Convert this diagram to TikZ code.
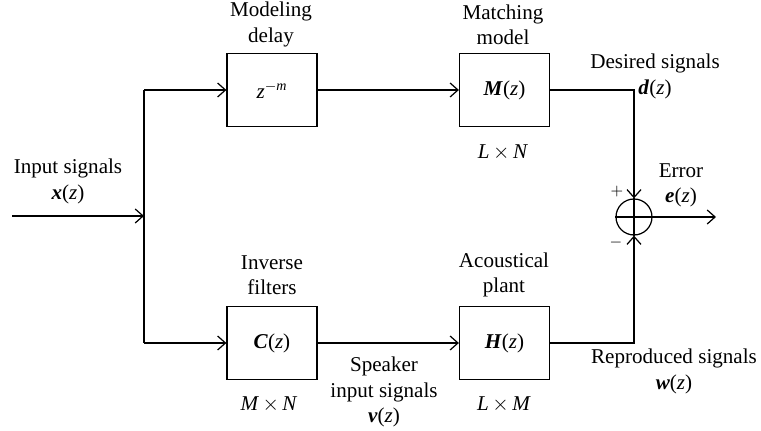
\documentclass[tikz,border=0pt]{standalone}
\usepackage{fontspec}
\setmainfont{Liberation Serif}
\usepackage{amsmath}
\usetikzlibrary{arrows.meta,positioning}

% bold vector of z, and plain italic letters, in the text face
\newcommand{\vz}[1]{\textbf{\textit{#1}}(\textit{z})}
\newcommand{\dimlbl}[2]{\textit{#1}\,$\times$\,\textit{#2}}

\tikzset{
  blk/.style={draw, line width=0.7pt, minimum width=1.8cm,
              minimum height=1.46cm, inner sep=0pt,
              font=\fontsize{12}{14.2}\selectfont},
  sig/.style={line width=0.7pt,
              -{Straight Barb[length=4.5pt,width=8pt]}},
  wire/.style={line width=0.7pt},
  lbl/.style={align=center, inner sep=0pt,
              font=\fontsize{12}{14.4}\selectfont},
  sgn/.style={inner sep=0pt, font=\fontsize{9}{9}\selectfont},
}

\begin{document}
\begin{tikzpicture}[x=0.02cm, y=-0.02cm]
    \useasboundingbox (0,0) rectangle (761,431);

    %% ── blocks ───────────────────────────────────────
    \node[blk] (delay) at (272,90)    {\textit{z}$^{-\textit{m}}$};
    \node[blk] (match) at (504.5,90)  {\vz{M}};
    \node[blk] (inv)   at (272,343)   {\vz{C}};
    \node[blk] (plant) at (504.5,343) {\vz{H}};

    %% ── summing junction ─────────────────────────────
    \node[circle, draw, line width=0.7pt, minimum size=0.72cm,
          inner sep=0pt] (sum) at (634,217) {};
    \draw[wire] (sum.north) -- (sum.south);
    \draw[wire] (sum.west) -- (sum.east);

    %% ── wiring ───────────────────────────────────────
    \coordinate (in)    at (12,216);
    \coordinate (split) at (144,216);
    \coordinate (top)   at (144,90);
    \coordinate (bot)   at (144,343);
    \coordinate (out)   at (716,217);

    \draw[sig]  (in) -- (split);
    \draw[wire] (top) -- (bot);
    \draw[sig]  (top) -- (delay);
    \draw[sig]  (delay) -- (match);
    \draw[sig]  (match.east) -| (sum.north);
    \draw[sig]  (bot) -- (inv);
    \draw[sig]  (inv) -- (plant);
    \draw[sig]  (plant.east) -| (sum.south);
    \draw[sig]  (sum.east) -- (out);

    %% ── labels ───────────────────────────────────────
    \node[lbl] (inlbl)    at (68,181.5)  {Input signals\\\vz{x}};
    \node[lbl] (delaylbl) at (271,24.5)  {Modeling\\delay};
    \node[lbl] (matchlbl) at (503,24.5)  {Matching\\model};
    \node[lbl] (matchdim) at (503,152)   {\dimlbl{L}{N}};
    \node[lbl] (deslbl)   at (655,76.5)  {Desired signals\\\vz{d}};
    \node[lbl] (errlbl)   at (681,185)   {Error\\\vz{e}};
    \node[sgn] (plus)     at (617,192)   {$+$};
    \node[sgn] (minus)    at (616,243)   {$-$};
    \node[lbl] (invlbl)   at (272,275)   {Inverse\\filters};
    \node[lbl] (invdim)   at (269,404)   {\dimlbl{M}{N}};
    \node[lbl] (spklbl)   at (384,392)   {Speaker\\input signals\\\vz{v}};
    \node[lbl] (plantlbl) at (504,275)   {Acoustical\\plant};
    \node[lbl] (plantdim) at (504,404)   {\dimlbl{L}{M}};
    \node[lbl] (replbl)   at (674,371.5) {Reproduced signals\\\vz{w}};

\end{tikzpicture}
\end{document}
